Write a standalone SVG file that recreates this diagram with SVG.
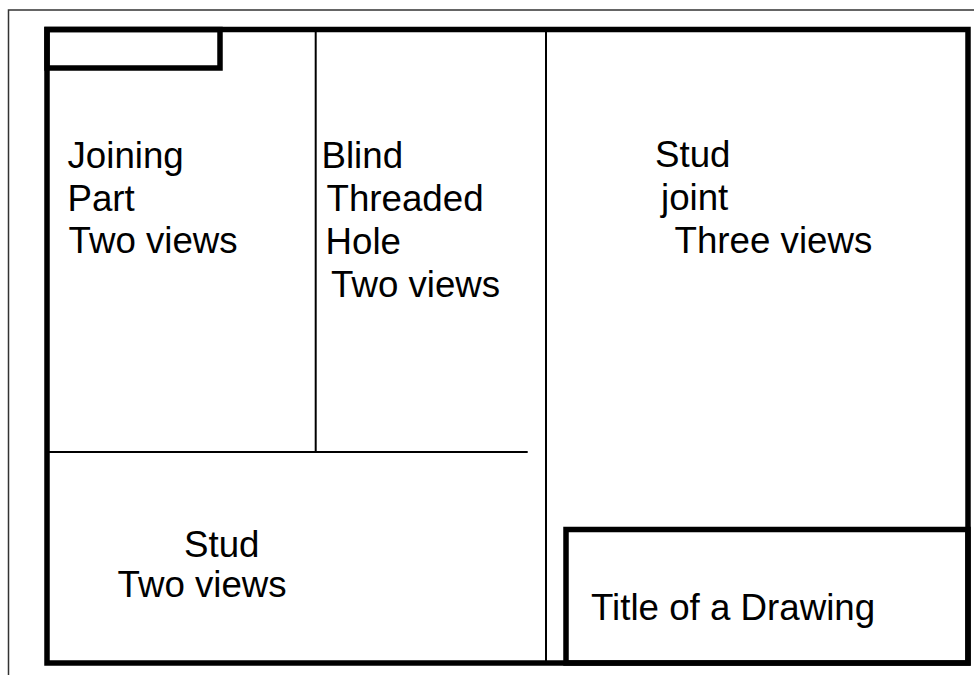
<svg xmlns="http://www.w3.org/2000/svg" width="974" height="675" viewBox="0 0 974 675">
<style>
.thick{fill:none;stroke:#000;stroke-width:5.5}
.thin{fill:none;stroke:#000;stroke-width:2}
.sheet{fill:none;stroke:#333;stroke-width:1.5}
text{font-family:"Liberation Sans",Arial,sans-serif;font-size:36.7px;fill:#000}
</style>
<rect width="974" height="675" fill="#fff"/>
<path class="sheet" d="M8.5 680 V10 H980"/>
<g id="frame">
<rect class="thick" x="47" y="29.5" width="921" height="633.5"/>
<rect class="thick" x="47" y="29.5" width="173" height="38.5"/>
</g>
<g id="dividers">
<line class="thin" x1="315.7" y1="31" x2="315.7" y2="452"/>
<line class="thin" x1="47" y1="452" x2="527.7" y2="452"/>
<line class="thin" x1="546" y1="31" x2="546" y2="662"/>
</g>
<g id="joining-part">
<text x="67.5" y="168.3">Joining</text>
<text x="67.5" y="211">Part</text>
<text x="68.5" y="253.3">Two views</text>
</g>
<g id="blind-hole">
<text x="321.5" y="168.3">Blind</text>
<text x="326.5" y="211">Threaded</text>
<text x="325.5" y="254.3">Hole</text>
<text x="331" y="296.7">Two views</text>
</g>
<g id="stud-joint">
<text x="655" y="167.3">Stud</text>
<text x="661" y="210">joint</text>
<text x="674.5" y="253.3">Three views</text>
</g>
<g id="stud">
<text x="184" y="557">Stud</text>
<text x="117.5" y="597">Two views</text>
</g>
<g id="title-block">
<rect class="thick" x="566" y="529.5" width="402" height="133.5"/>
<text x="591" y="620">Title of a Drawing</text>
</g>
</svg>
